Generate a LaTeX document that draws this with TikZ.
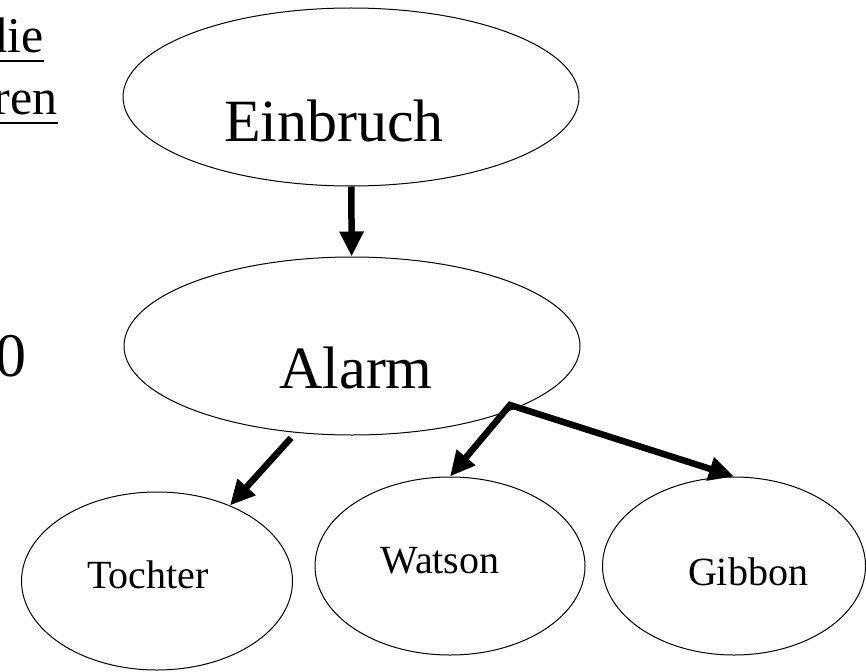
\documentclass[tikz,border=0pt]{standalone}
\usepackage{fontspec}
\setmainfont{Liberation Serif}
\usetikzlibrary{shapes.geometric,arrows.meta}

\tikzstyle{bigstate} = [ellipse, draw=black, line width=1pt, inner sep=0pt, minimum width=456pt, minimum height=178pt]
\tikzstyle{smallstate} = [ellipse, draw=black, line width=1pt, inner sep=0pt, minimum height=178pt]
\tikzstyle{bigword} = [inner sep=0pt, anchor=base, font=\fontsize{60}{60}\selectfont]
\tikzstyle{smallword} = [inner sep=0pt, anchor=base, font=\fontsize{40}{40}\selectfont]
\tikzstyle{sideword} = [inner sep=0pt, anchor=base east, font=\fontsize{50}{50}\selectfont]
\tikzstyle{underl} = [line width=1.6pt]
\tikzstyle{arrow} = [-{Triangle[length=25pt,width=23pt]}, line width=6.5pt]

\begin{document}
\begin{tikzpicture}[x=1pt, y=-1pt]
\useasboundingbox (0,0) rectangle (866,671);
\clip (0,0) rectangle (866,671);

\node (einbruch) [bigstate] at (351,97) {};
\node (alarm) [bigstate] at (352,346) {};

\node (tochter) [smallstate, minimum width=271pt] at (157,581) {};
\node (watson) [smallstate, minimum width=270pt] at (450,566) {};
\node (gibbon) [smallstate, minimum width=263pt] at (734,566) {};

\node (einbruchtext) [bigword] at (334,142) {Einbruch};
\node (alarmtext) [bigword] at (356,388) {Alarm};
\node (tochtertext) [smallword] at (148,588) {Tochter};
\node (watsontext) [smallword] at (440,573) {Watson};
\node (gibbontext) [smallword] at (748,585) {Gibbon};

% cut-off words at the left margin
\node (die) [sideword] at (44,53) {die};
\node (ren) [sideword] at (58,115) {ren};
\node (zero) [sideword, font=\fontsize{62}{62}\selectfont] at (27,376) {0};
\draw [underl] ([yshift=-8pt]die.base west) -- ([yshift=-8pt]die.base east);
\draw [underl] ([yshift=-8pt]ren.base west) -- ([yshift=-8pt]ren.base east);

\coordinate (fork) at (510,405);

\draw [arrow] (einbruch) -- (alarm);
\draw [arrow, shorten <=7pt] (alarm.-123) -- (tochter.46);
\draw [arrow, shorten <=-2pt] (fork) -- (watson.north);
\draw [arrow, shorten <=-2pt] (fork) -- (gibbon.north);
\end{tikzpicture}
\end{document}
